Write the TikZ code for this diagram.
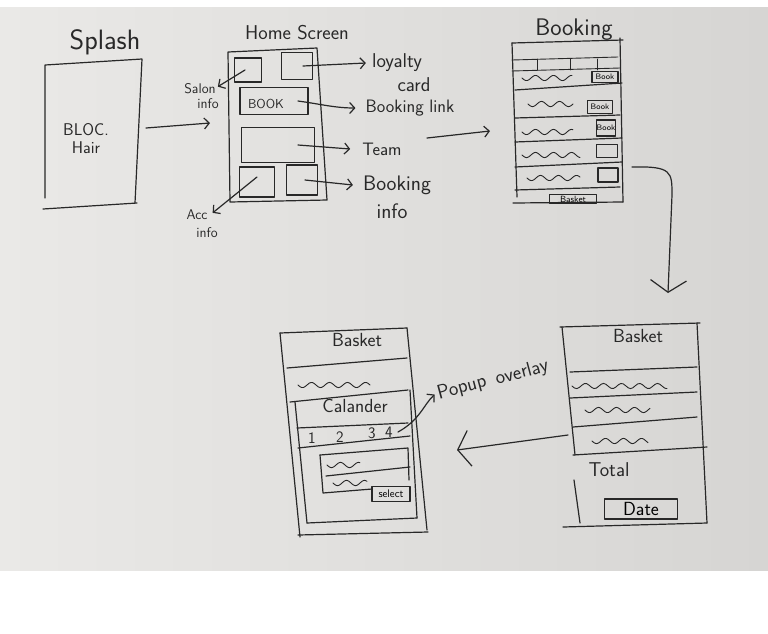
\documentclass[tikz,border=0pt]{standalone}
\usepackage{tikz}
\usetikzlibrary{arrows.meta,positioning}

\definecolor{paper}{RGB}{234,233,231}
\definecolor{paperdark}{RGB}{214,213,211}
\definecolor{ink}{RGB}{40,40,40}

\newcommand{\hs}[1]{\fontsize{#1}{#1}\selectfont}
% squiggle standing for a line of text: start x, start y, length
\newcommand{\squiggle}[3]{%
  \draw[thinpen] plot[domain=0:#3, samples=40, smooth] ({#1+\x},{#2+2.6*sin(\x*20)});
}

\tikzset{
  pen/.style={draw=ink, line width=1.2pt, line cap=round, line join=round},
  thinpen/.style={draw=ink, line width=0.9pt, line cap=round},
  hand/.style={text=ink, inner sep=0pt},
  box/.style={pen, inner sep=0pt},
  tip/.style={-{Straight Barb[length=5pt,width=11pt]}},
  bigtip/.style={-{Straight Barb[length=12pt,width=36pt]}},
}

\begin{document}
\begin{tikzpicture}[x=1pt, y=-1pt, font=\sffamily]

% paper
\useasboundingbox (0,0) rectangle (768,633);
\fill[white] (0,0) rectangle (768,633);
\shade[left color=paper, right color=paperdark] (0,7) rectangle (768,570);

% ===== SPLASH =====
\node[hand, font=\sffamily\hs{28}] (splashtitle) at (105,42) {Splash};
\draw[pen] (45,198) -- (45,65) -- (142,59) -- (135,203);
\draw[pen] (43,209) -- (137,203);
\node[hand, font=\sffamily\hs{17}] (bloc) at (86,130) {BLOC.};
\node[hand, font=\sffamily\hs{17}, below=5pt of bloc] (hair) {Hair};
\coordinate (splashout) at (146,128);

% ===== HOME SCREEN =====
\node[hand, font=\sffamily\hs{20}] (hometitle) at (297,33) {Home Screen};
\draw[pen] (228,52) -- (317,48) -- (327,200) -- (230,202) -- cycle;
\coordinate (homein) at (210,123);

\node[box, minimum width=27, minimum height=24] (salonbox) at (248,70) {};
\node[box, minimum width=31, minimum height=27] (loyaltybox) at (297,66) {};
\node[box, minimum width=68, minimum height=27] (bookbar) at (274,101) {};
\node[hand, font=\sffamily\hs{13}] (booktxt) at (266,104) {BOOK};
\node[box, minimum width=73, minimum height=35] (teambar) at (278,145) {};
\node[box, minimum width=35, minimum height=30] (accbox) at (257,182) {};
\node[box, minimum width=31, minimum height=30] (infobox) at (302,180) {};

% labels round the home screen
\node[hand, font=\sffamily\hs{20}] (loyalty) at (397,63) {loyalty};
\node[hand, font=\sffamily\hs{20}] (card) at (414,85) {card};
\node[hand, font=\sffamily\hs{18}] (bookinglink) at (410,108) {Booking link};
\node[hand, font=\sffamily\hs{18}] (team) at (382,149) {Team};
\node[hand, font=\sffamily\hs{21}] (bookinginfo) at (397,185) {Booking};
\node[hand, font=\sffamily\hs{21}] (info) at (392,211) {info};
\node[hand, font=\sffamily\hs{14}] (salon) at (200,89) {Salon};
\node[hand, font=\sffamily\hs{14}] (saloninfo) at (208,104) {info};
\node[hand, font=\sffamily\hs{14}] (acc) at (197,215) {Acc};
\node[hand, font=\sffamily\hs{14}] (accinfo) at (207,233) {info};

\draw[pen, tip] ([xshift=6]loyaltybox.center) -- ([xshift=-6]loyalty.west);
\draw[pen, tip] ([xshift=24]bookbar.center) .. controls (320,104) and (335,108) .. ([xshift=-10]bookinglink.west);
\draw[pen, tip] ([xshift=20]teambar.center) -- ([xshift=-12]team.west);
\draw[pen, tip] ([xshift=3]infobox.center) -- ([xshift=-10]bookinginfo.west);
\draw[pen, tip] ([xshift=-3]salonbox.center) -- ([xshift=2,yshift=-3]salon.north east);
\draw[pen, tip] ([yshift=5]accbox.center) -- ([xshift=5,yshift=-3]acc.north east);

\draw[pen, tip] (splashout) -- (homein);

% ===== BOOKING =====
\node[hand, font=\sffamily\hs{24}] (bookingtitle) at (574,30) {Booking};
\draw[pen] (512,43) -- (623,40);
\draw[pen] (512,43) -- (517,197);
\draw[pen] (620,38) -- (623,202);
\draw[pen] (513,203) -- (623,202);
\coordinate (bookingin) at (490,131);
\coordinate (bookingout) at (632,167);

% tab row
\draw[thinpen] (512,60) -- (618,57);
\draw[thinpen] (512,71) -- (620,68);
\foreach \tx in {537,570,597}
  \draw[thinpen] (\tx,59) -- (\tx,70);

% rows
\draw[pen] (515,90) -- (622,83);
\draw[pen] (515,118) -- (620,115);
\draw[pen] (515,142) -- (622,138);
\draw[pen] (515,167) -- (622,162);
\draw[pen] (515,190) -- (620,187);
\squiggle{522}{78}{50}
\squiggle{528}{104}{45}
\squiggle{522}{132}{51}
\squiggle{522}{155}{58}
\squiggle{527}{178}{53}

\node[box, minimum width=26, minimum height=11, font=\sffamily\hs{8}] (bookbtna) at (605,77) {Book};
\node[box, minimum width=25, minimum height=13, font=\sffamily\hs{8}] (bookbtnb) at (600,107) {Book};
\node[box, minimum width=18, minimum height=16, font=\sffamily\hs{8}] (bookbtnc) at (606,128) {Book};
\node[box, minimum width=21, minimum height=13] (emptybtna) at (607,151) {};
\node[box, minimum width=20, minimum height=14] (emptybtnb) at (608,175) {};
\node[box, minimum width=47, minimum height=9, font=\sffamily\hs{9}] (basketbtn) at (573,199) {Basket};

\draw[pen, tip] (bookingin) ++(-63,7) -- (bookingin);

% ===== BASKET (TOTAL) =====
\node[hand, font=\sffamily\hs{19}] (baskettitle) at (638,336) {Basket};
\draw[pen] (560,327) -- (700,323);
\draw[pen] (562,327) -- (575,455);
\draw[pen] (574,480) -- (580,523);
\draw[pen] (697,323) -- (707,523);
\draw[pen] (563,527) -- (707,523);
\draw[pen] (570,372) -- (697,367);
\draw[pen] (570,398) -- (697,392);
\draw[pen] (573,427) -- (697,417);
\draw[pen] (573,455) -- (707,447);
\squiggle{572}{386}{95}
\squiggle{585}{410}{65}
\squiggle{592}{441}{56}
\node[hand, font=\sffamily\hs{20}] (total) at (609,470) {Total};
\node[box, minimum width=73, minimum height=20, font=\sffamily\hs{19}] (datebtn) at (641,509) {Date};
\coordinate (basketin) at (668,293);
\coordinate (basketout) at (568,435);

\draw[pen, bigtip] (bookingout) .. controls (672,166) and (672,172) .. (672,195) -- (basketin);

% ===== BASKET (CALENDAR) =====
\node[hand, font=\sffamily\hs{19}] (calbaskettitle) at (357,340) {Basket};
\draw[pen] (280,333) -- (407,328);
\draw[pen] (280,333) -- (300,537);
\draw[pen] (407,328) -- (427,530);
\draw[pen] (298,535) -- (428,532);
\draw[pen] (287,368) -- (407,358);
\squiggle{298}{385}{72}
\coordinate (calbasketin) at (457,450);

% popup overlay on the basket
\draw[pen] (290,402) -- (408,390);
\draw[pen] (295,402) -- (307,523);
\draw[pen] (410,390) -- (417,518);
\draw[pen] (307,523) -- (417,518);
\node[hand, font=\sffamily\hs{19}] (calander) at (355,406) {Calander};
\draw[pen] (297,428) -- (408,423);
\draw[pen] (298,448) -- (410,436);
\node[hand, font=\sffamily\hs{16}] (dayone) at (312,438) {1};
\node[hand, font=\sffamily\hs{16}] (daytwo) at (340,437) {2};
\node[hand, font=\sffamily\hs{16}] (daythree) at (372,433) {3};
\node[hand, font=\sffamily\hs{16}] (dayfour) at (389,432) {4};

% slot list with select button
\draw[pen] (320,455) -- (408,448) -- (409,480);
\draw[pen] (320,455) -- (323,493) -- (372,489);
\draw[pen] (326,476) -- (410,467);
\squiggle{327}{465}{33}
\squiggle{333}{483}{34}
\node[box, minimum width=38, minimum height=15, font=\sffamily\hs{11}] (selectbtn) at (391,494) {select};

\node[hand, font=\sffamily\hs{20}, rotate=15] (popup) at (462,388) {Popup};
\node[hand, font=\sffamily\hs{20}, rotate=15] (overlay) at (522,373) {overlay};
\draw[pen, tip] ([xshift=5]dayfour.east) .. controls (420,420) and (424,404) .. ([xshift=-3]popup.west);

\draw[pen, bigtip] (basketout) -- (calbasketin);

\end{tikzpicture}
\end{document}
